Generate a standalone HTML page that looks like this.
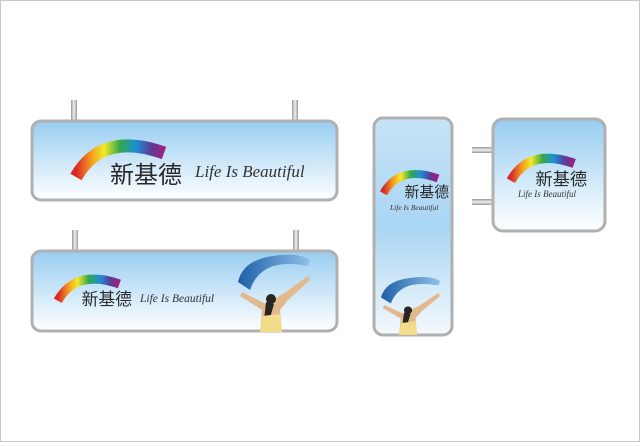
<!DOCTYPE html>
<html><head><meta charset="utf-8"><style>
html,body{margin:0;padding:0;background:#fff}
body{width:640px;height:442px;overflow:hidden}
</style></head><body>
<svg width="640" height="442" viewBox="0 0 640 442" xmlns="http://www.w3.org/2000/svg">
<defs>
<linearGradient id="bg" x1="0" y1="0" x2="0" y2="1"><stop offset="0" stop-color="#98cdf1"/><stop offset="1" stop-color="#ffffff"/></linearGradient>
<linearGradient id="bgv" x1="0" y1="0" x2="0" y2="1"><stop offset="0" stop-color="#c7e3f7"/><stop offset="0.5" stop-color="#a9d5f3"/><stop offset="1" stop-color="#f4f9fd"/></linearGradient>
<linearGradient id="rb" x1="0" y1="0" x2="1" y2="0"><stop offset="0" stop-color="#d8262a"/><stop offset="0.18" stop-color="#f2a11f"/><stop offset="0.32" stop-color="#f4e92a"/><stop offset="0.5" stop-color="#34a849"/><stop offset="0.68" stop-color="#1d8fd6"/><stop offset="0.85" stop-color="#5a3c98"/><stop offset="1" stop-color="#a0207a"/></linearGradient>
<linearGradient id="pole" x1="0" y1="0" x2="1" y2="0"><stop offset="0" stop-color="#999"/><stop offset="0.5" stop-color="#eee"/><stop offset="1" stop-color="#999"/></linearGradient>
<linearGradient id="poleh" x1="0" y1="0" x2="0" y2="1"><stop offset="0" stop-color="#999"/><stop offset="0.5" stop-color="#eee"/><stop offset="1" stop-color="#999"/></linearGradient>
<linearGradient id="sw" x1="0" y1="0" x2="1" y2="0"><stop offset="0" stop-color="#1f5fa8"/><stop offset="1" stop-color="#8fc0e8"/></linearGradient>
<g id="logo">
<path d="M4,-6 Q30,-52 92,-30" fill="none" stroke="url(#rb)" stroke-width="13"/>
<text x="38" y="0" font-family="Liberation Sans,'Noto Sans CJK SC',sans-serif" font-size="24" fill="#2a2a2a">新基德</text>
</g>
<g id="girl">
<path d="M0,30 Q5,8 35,4 Q60,0 72,8 L70,14 Q50,10 35,14 Q18,20 12,38 Z" fill="url(#sw)"/>
<path d="M4,40 L28,52 L48,40 L70,24 L72,28 L50,48 L42,58 L44,80 L22,80 L24,58 L2,44 Z" fill="#e2b98d"/>
<circle cx="33" cy="47" r="5" fill="#2a2420"/>
<path d="M28,50 L26,68 L32,66 L36,52 Z" fill="#2a2420"/>
<path d="M24,64 L42,62 L44,80 L22,80 Z" fill="#f2dc8a"/>
</g>
</defs>
<rect x="0.5" y="0.5" width="639" height="441" fill="#fff" stroke="#c8c8c8"/>
<rect x="71" y="100" width="6" height="22" fill="url(#pole)"/>
<rect x="292" y="100" width="6" height="22" fill="url(#pole)"/>
<rect x="72" y="230" width="6" height="22" fill="url(#pole)"/>
<rect x="293" y="230" width="6" height="22" fill="url(#pole)"/>
<rect x="472" y="147" width="22" height="6" fill="url(#poleh)"/>
<rect x="472" y="199" width="22" height="6" fill="url(#poleh)"/>
<rect x="32" y="121" width="305" height="79" rx="9" fill="url(#bg)" stroke="#b0b0b0" stroke-width="3"/>
<use href="#logo" transform="translate(72,183)"/>
<text x="195" y="177" font-family="Liberation Serif,serif" font-style="italic" font-size="17" fill="#333">Life Is Beautiful</text>
<rect x="32" y="251" width="305" height="80" rx="9" fill="url(#bg)" stroke="#b0b0b0" stroke-width="3"/>
<use href="#logo" transform="translate(55,305) scale(0.7)"/>
<text x="140" y="302" font-family="Liberation Serif,serif" font-style="italic" font-size="11.5" fill="#333">Life Is Beautiful</text>
<use href="#girl" transform="translate(238,252)"/>
<rect x="374" y="118" width="78" height="217" rx="9" fill="url(#bgv)" stroke="#b0b0b0" stroke-width="3"/>
<use href="#logo" transform="translate(381,197) scale(0.62)"/>
<text x="390" y="210" font-family="Liberation Serif,serif" font-style="italic" font-size="7.5" fill="#333">Life Is Beautiful</text>
<use href="#girl" transform="translate(381,275) scale(0.82,0.75)"/>
<rect x="493" y="119" width="112" height="112" rx="10" fill="url(#bg)" stroke="#b0b0b0" stroke-width="3"/>
<use href="#logo" transform="translate(508,185) scale(0.72)"/>
<text x="518" y="197" font-family="Liberation Serif,serif" font-style="italic" font-size="9" fill="#333">Life Is Beautiful</text>
</svg>
</body></html>
